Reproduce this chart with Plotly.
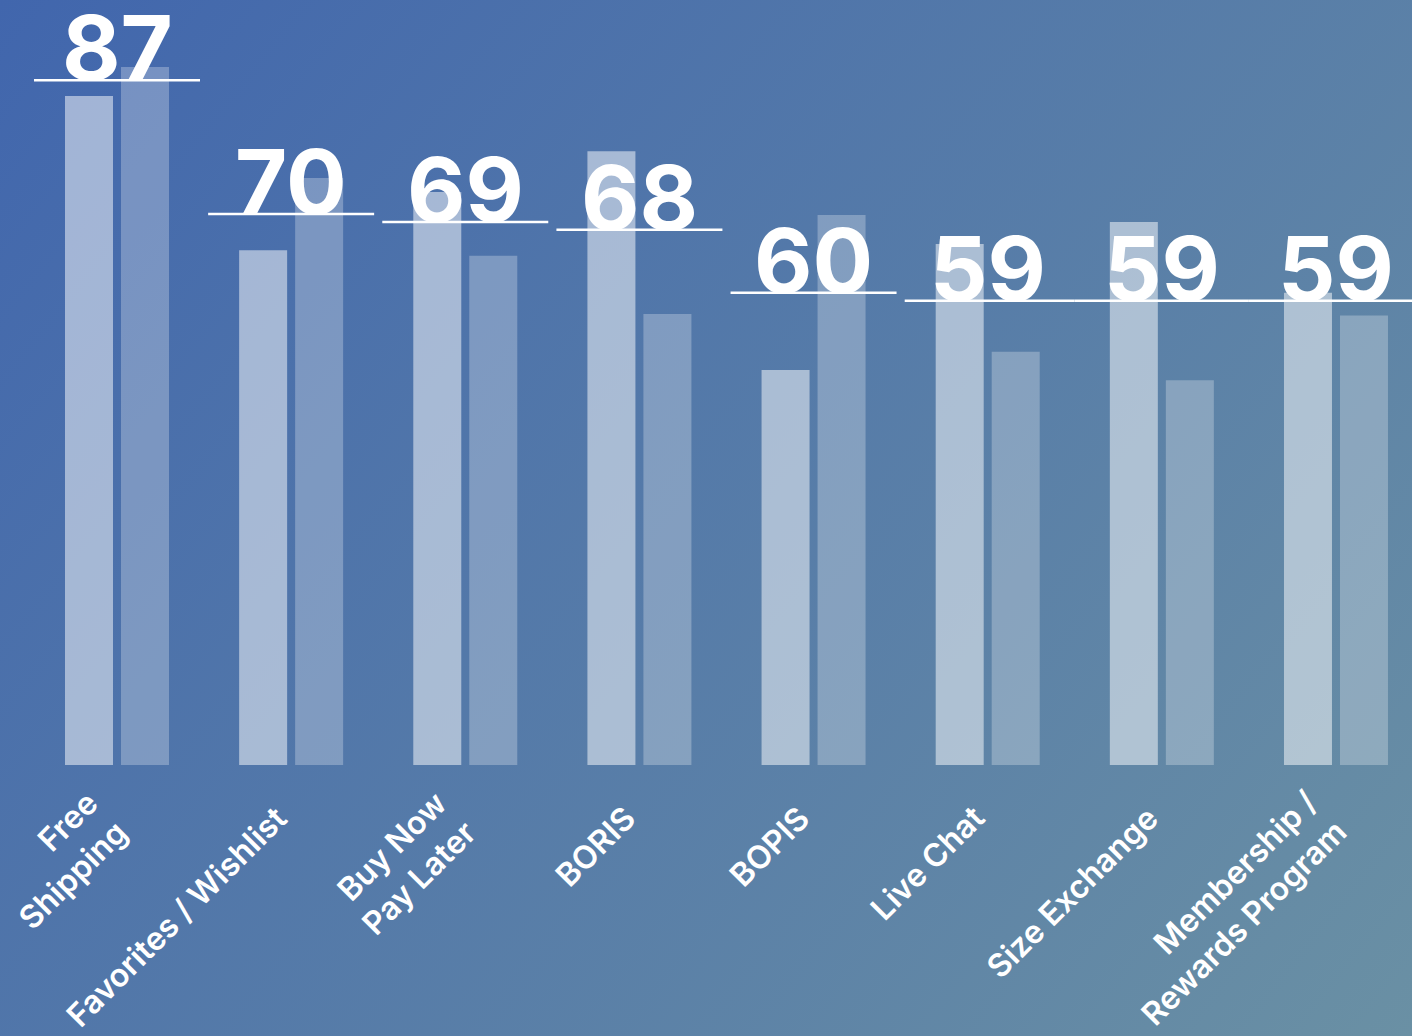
import base64
import plotly.graph_objects as go

# ---- data ----
categories = ["Free<br>Shipping", "Favorites / Wishlist", "Buy Now<br>Pay Later", "BORIS",
              "BOPIS", "Live Chat", "Size Exchange", "Membership /<br>Rewards Program"]
headline_values = [87, 70, 69, 68, 60, 59, 59, 59]
series_a = [85.0, 65.4, 72.8, 78.0, 50.2, 66.2, 69.0, 60.0]
series_b = [88.7, 74.6, 64.7, 57.3, 69.9, 52.5, 48.9, 57.1]

x_idx = list(range(len(categories)))

# ---- styling ----
W, H = 1412, 1036
PLOT_BOTTOM_PX = 765
FONT = "Inter"
step_px = 174.14
bar_w = 48 / step_px
LABEL_SIZE = 32

svg = (
    "<svg xmlns='http://www.w3.org/2000/svg' width='1412' height='1036' "
    "viewBox='0 0 1412 1036' preserveAspectRatio='none'>"
    "<defs><linearGradient id='g' gradientUnits='userSpaceOnUse' x1='0' y1='0' x2='1359' y2='1100'>"
    "<stop offset='0' stop-color='#4166AD'/><stop offset='1' stop-color='#6A90A4'/>"
    "</linearGradient></defs><rect x='0' y='0' width='1412' height='1036' fill='url(#g)'/></svg>"
)
bg_src = "data:image/svg+xml;base64," + base64.b64encode(svg.encode()).decode()

fig = go.Figure()
fig.add_trace(go.Bar(x=x_idx, y=series_a, width=bar_w, offset=-52 / step_px,
                     marker=dict(color="rgba(255,255,255,0.5)", line=dict(width=0)),
                     hoverinfo="skip", showlegend=False))
fig.add_trace(go.Bar(x=x_idx, y=series_b, width=bar_w, offset=4 / step_px,
                     marker=dict(color="rgba(255,255,255,0.27)", line=dict(width=0)),
                     hoverinfo="skip", showlegend=False))

half = 83 / step_px
n = len(headline_values)
for i, v in zip(x_idx, headline_values):
    # segments of equal neighbouring values join into one continuous rule
    x0 = i - 0.5 if i > 0 and headline_values[i - 1] == v else i - half
    x1 = i + 0.5 if i < n - 1 and headline_values[i + 1] == v else i + half
    fig.add_shape(type="line", xref="x", yref="y", x0=x0, x1=x1, y0=v, y1=v,
                  line=dict(color="white", width=2.5), layer="above")
    fig.add_annotation(x=i, y=v, xref="x", yref="y", text=str(v), showarrow=False,
                       xanchor="center", yanchor="bottom", yshift=-24,
                       font=dict(family=FONT, size=90, color="white", weight=700))

# rotated category labels, right-aligned, block centred on a common anchor
dx, dy = -9, 46
for i, lab in zip(x_idx, categories):
    n_lines = lab.count("<br>") + 1
    h = n_lines * 1.3 * LABEL_SIZE + 2
    fig.add_annotation(x=i, y=0, xref="x", yref="paper", text=lab, showarrow=False,
                       textangle=-45, align="right", xanchor="right", yanchor="top",
                       xshift=dx + 0.354 * h, yshift=0.354 * h - dy,
                       font=dict(family=FONT, size=LABEL_SIZE, color="white", weight=600))

x_lo = -117 / step_px
x_hi = (W - 117) / step_px
y_hi = PLOT_BOTTOM_PX / 7.87

fig.update_layout(
    width=W, height=H,
    margin=dict(l=0, r=0, t=0, b=H - PLOT_BOTTOM_PX, pad=0),
    paper_bgcolor="#557AA8",
    plot_bgcolor="rgba(0,0,0,0)",
    barmode="overlay",
    showlegend=False,
    images=[dict(source=bg_src, xref="paper", yref="paper", x=0, y=1,
                 sizex=1, sizey=H / PLOT_BOTTOM_PX, xanchor="left", yanchor="top",
                 sizing="stretch", layer="below")],
    xaxis=dict(range=[x_lo, x_hi], showticklabels=False, showgrid=False, zeroline=False,
               showline=False, ticks=""),
    yaxis=dict(range=[0, y_hi], visible=False, showgrid=False, zeroline=False),
)

fig.write_html("out.html", config={"displayModeBar": False},
               post_script="document.body.style.margin='0px';document.body.style.overflow='hidden';")
